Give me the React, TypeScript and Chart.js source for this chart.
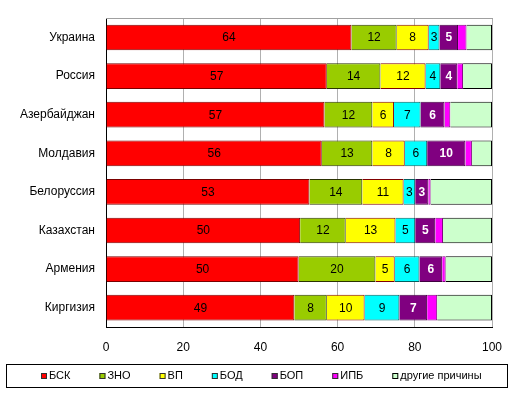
import React, { useEffect, useRef } from 'react';
import { Chart, registerables } from 'chart.js';

Chart.register(...registerables);

const categories = ['Украина', 'Россия', 'Азербайджан', 'Молдавия', 'Белоруссия', 'Казахстан', 'Армения', 'Киргизия'];
const seriesNames = ['БСК', 'ЗНО', 'ВП', 'БОД', 'БОП', 'ИПБ', 'другие причины'];
const bsk = [63.6, 57.2, 56.6, 55.9, 52.7, 50.3, 49.9, 48.8];
const zno = [11.7, 13.9, 12.4, 13.1, 13.7, 11.8, 19.9, 8.4];
const vp = [8.3, 11.7, 5.6, 8.4, 10.7, 12.9, 5.0, 9.8];
const bod = [2.8, 3.8, 6.9, 5.8, 3.0, 5.1, 6.4, 9.0];
const bop = [4.8, 4.4, 6.2, 9.9, 3.4, 5.2, 5.9, 7.2];
const ipb = [2.2, 1.5, 1.5, 1.7, 0.6, 2.0, 0.9, 2.6];
const other = [6.6, 7.5, 10.8, 5.2, 15.9, 12.7, 12.0, 14.2];
const xMin = 0;
const xMax = 100;
const xStep = 20;

const fills = ['#FF0000', '#99CC00', '#FFFF00', '#00FFFF', '#800080', '#FF00FF', '#CCFFCC'];
const strokes = ['#7a0000', '#2a3300', '#800000', '#006060', '#400040', '#800080', '#000000'];
const showLabel = [true, true, true, true, true, false, false];
const FONT = '"Liberation Sans", Arial, sans-serif';

const labelPlugin = {
  id: 'segLabels',
  afterDatasetsDraw(chart: any) {
    const ctx = chart.ctx;
    ctx.save();
    ctx.textAlign = 'center';
    ctx.textBaseline = 'middle';
    chart.data.datasets.forEach((ds: any, i: number) => {
      if (!showLabel[i]) return;
      const meta = chart.getDatasetMeta(i);
      const purple = i === 4;
      ctx.font = (purple ? 'bold ' : '') + '12px ' + FONT;
      ctx.fillStyle = purple ? '#FFFFFF' : '#000000';
      meta.data.forEach((el: any, j: number) => {
        const p = el.getProps(['x', 'y', 'base'], true);
        const cx = (p.x + p.base) / 2;
        ctx.fillText(String(Math.round(ds.data[j])), cx, p.y + 0.5);
      });
    });
    ctx.restore();
  },
};

const framePlugin = {
  id: 'frameLegend',
  afterDraw(chart: any) {
    const ctx = chart.ctx;
    const a = chart.chartArea;
    ctx.save();
    // top border of plot
    ctx.strokeStyle = '#A0A0A0';
    ctx.lineWidth = 1;
    ctx.beginPath();
    ctx.moveTo(Math.round(a.left), Math.round(a.top) + 0.5);
    ctx.lineTo(Math.round(a.right) + 1, Math.round(a.top) + 0.5);
    ctx.stroke();

    // legend box
    ctx.strokeStyle = '#000000';
    ctx.strokeRect(6.5, 364.5, 501, 23);
    ctx.font = '11px ' + FONT;
    ctx.textBaseline = 'middle';
    ctx.textAlign = 'left';
    const mark = 6;
    const gap = 2;
    const spacing = 29;
    const items = chart.data.datasets.map((d: any) => ({
      label: d.label,
      fill: d.backgroundColor,
      stroke: d.borderColor,
      w: ctx.measureText(d.label).width,
    }));
    const total = items.reduce((s: number, it: any) => s + mark + gap + it.w, 0) + spacing * (items.length - 1);
    let x = Math.round(261 - total / 2);
    const cy = 376;
    items.forEach((it: any) => {
      ctx.fillStyle = it.fill;
      ctx.fillRect(x, cy - 3, mark, mark);
      ctx.strokeStyle = it.stroke === '#000000' ? '#000000' : '#303030';
      ctx.strokeRect(x + 0.5, cy - 2.5, mark - 1, mark - 1);
      ctx.fillStyle = '#000000';
      ctx.fillText(it.label, x + mark + gap, cy);
      x += mark + gap + it.w + spacing;
    });
    ctx.restore();
  },
};

export default function App() {
  const ref = useRef<HTMLCanvasElement>(null);
  useEffect(() => {
    document.body.style.margin = '0';
    const seriesValues = [bsk, zno, vp, bod, bop, ipb, other];
    const chart = new Chart(ref.current as HTMLCanvasElement, {
      type: 'bar',
      data: {
        labels: categories,
        datasets: seriesValues.map((vals, i) => ({
          label: seriesNames[i],
          data: vals,
          backgroundColor: fills[i],
          borderColor: strokes[i],
          borderWidth: 1,
          categoryPercentage: 1,
          barPercentage: 0.667,
        })),
      },
      options: {
        indexAxis: 'y',
        animation: false,
        responsive: false,
        layout: { padding: { top: 15, right: 27, bottom: 40, left: 0 } },
        plugins: {
          legend: { display: false },
          tooltip: { enabled: false },
        },
        scales: {
          x: {
            stacked: true,
            min: xMin,
            max: xMax,
            ticks: { stepSize: xStep, color: '#000', font: { family: FONT, size: 12 }, padding: 13 },
            grid: { color: '#B0B0B0', drawTicks: false },
            border: { color: '#000', width: 1 },
            afterFit: (s: any) => { s.height = 28; },
          },
          y: {
            stacked: true,
            ticks: { color: '#000', font: { family: FONT, size: 12 }, padding: 11 },
            grid: { display: false, drawTicks: false },
            border: { color: '#000', width: 1 },
            afterFit: (s: any) => { s.width = 106; },
          },
        },
      },
      plugins: [labelPlugin, framePlugin],
    });
    return () => chart.destroy();
  }, []);
  return (
    <div style={{ position: 'absolute', left: 0, top: 0, width: 519, height: 395, background: '#fff' }}>
      <canvas ref={ref} width={519} height={395} />
    </div>
  );
}
